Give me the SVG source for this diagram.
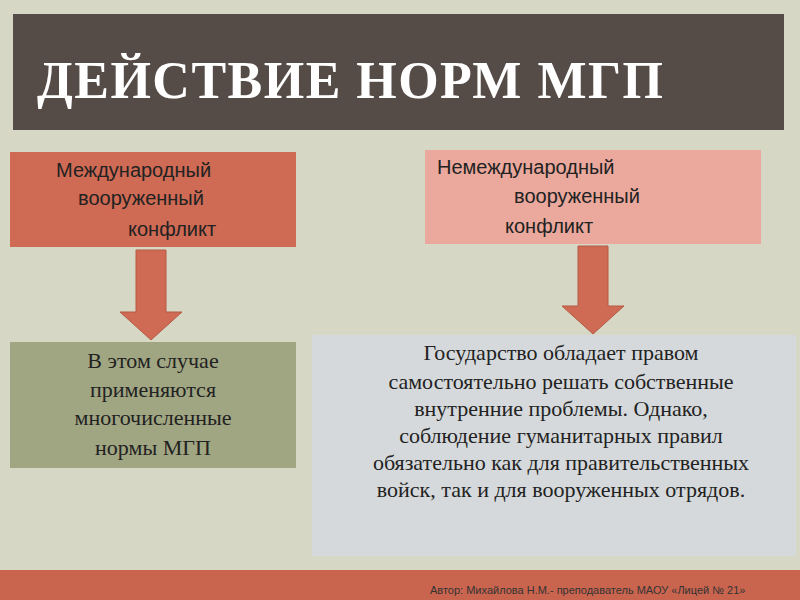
<svg xmlns="http://www.w3.org/2000/svg" width="800" height="600" viewBox="0 0 800 600">
<style>
.t{font-family:"Liberation Serif",serif;font-size:22px;fill:#222}
.s{font-family:"Liberation Sans",sans-serif;font-size:20px;fill:#222}
.a{fill:#cf6a54;stroke:#b55a45;stroke-width:1}
</style>
<rect width="800" height="600" fill="#d6d7c4"/>
<rect x="0" y="570" width="800" height="30" fill="#c9654f"/>
<text x="430" y="594" font-family="Liberation Sans,sans-serif" font-size="11" fill="#333">Автор: Михайлова Н.М.- преподаватель МАОУ «Лицей № 21»</text>
<g id="title">
<rect x="13" y="14" width="771" height="116" fill="#554b47"/>
<text x="37" y="98" font-family="Liberation Serif,serif" font-weight="bold" font-size="52" fill="#fff" textLength="626">ДЕЙСТВИЕ НОРМ МГП</text>
</g>
<g id="n1">
<rect x="10" y="152" width="286" height="95" fill="#cf6a54"/>
<text class="s"><tspan x="56" y="177">Международный</tspan><tspan x="78" y="205">вооруженный</tspan><tspan x="128" y="236">конфликт</tspan></text>
</g>
<g id="n2">
<rect x="425" y="150" width="336" height="94" fill="#eba89c"/>
<text class="s"><tspan x="437" y="174">Немеждународный</tspan><tspan x="514" y="203">вооруженный</tspan><tspan x="505" y="233">конфликт</tspan></text>
</g>
<g id="n3">
<rect x="10" y="342" width="286" height="126" fill="#a1a682"/>
<text class="t" text-anchor="middle"><tspan x="153" y="368">В этом случае</tspan><tspan x="153" y="397">применяются</tspan><tspan x="153" y="425">многочисленные</tspan><tspan x="153" y="455">нормы МГП</tspan></text>
</g>
<g id="n4">
<rect x="312" y="335" width="484" height="221" fill="#d5d9db"/>
<text class="t" font-size="20.5" text-anchor="middle"><tspan x="561" y="360">Государство обладает правом</tspan><tspan x="561" y="389">самостоятельно решать собственные</tspan><tspan x="561" y="416">внутренние проблемы. Однако,</tspan><tspan x="561" y="443">соблюдение гуманитарных правил</tspan><tspan x="561" y="470">обязательно как для правительственных</tspan><tspan x="561" y="497">войск, так и для вооруженных отрядов.</tspan></text>
</g>
<g id="connectors">
<polygon class="a" points="136,250 166,250 166,312 182,312 151,340 120,312 136,312"/>
<polygon class="a" points="578,246 608,246 608,306 624,306 593,334 562,306 578,306"/>
</g>
</svg>
